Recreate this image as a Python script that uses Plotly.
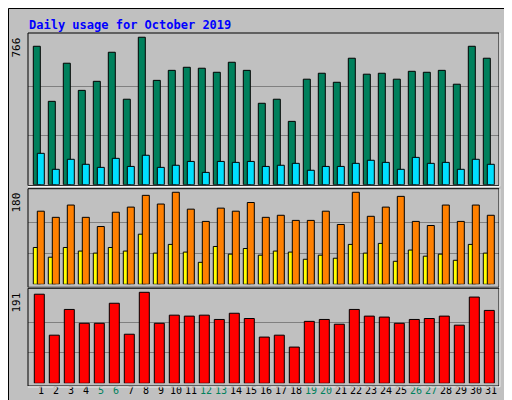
import plotly.graph_objects as go

days = list(range(1, 32))
hits = [719,433,631,490,537,688,444,766,542,594,610,605,584,636,594,423,444,329,548,579,532,657,574,579,548,589,584,594,522,719,657]
files = [163,80,132,106,90,137,95,153,90,101,121,64,121,116,121,95,101,111,75,95,95,111,127,116,80,142,111,116,80,132,106]
visits = [143,131,155,131,113,141,151,174,157,180,147,123,149,143,160,131,135,125,125,143,117,180,133,151,172,123,115,155,123,155,135]
sites = [72,53,72,65,61,72,65,98,61,78,63,43,74,59,70,57,65,63,49,57,51,78,61,80,45,67,55,59,47,78,61]
kbytes = [187,101,155,126,126,168,103,191,126,143,141,143,134,147,136,97,101,76,130,134,124,155,141,139,126,134,136,141,122,181,153]
weekend = {5,6,12,13,19,20,26,27}
title = "Daily usage for October 2019"

W, H = 512, 400
def py(p): return 1 - p / H
def px(p): return p / W

BG = "#C0C0C0"
fig = go.Figure()
line = dict(color="black", width=1)
fig.add_bar(x=days, y=hits, marker=dict(color="#00805C", line=line), width=0.467, offset=0, xaxis="x", yaxis="y")
fig.add_bar(x=days, y=files, marker=dict(color="#00E0FF", line=line), width=0.467, offset=0.267, xaxis="x", yaxis="y")
fig.add_bar(x=days, y=sites, marker=dict(color="#FFFF00", line=line), width=0.467, offset=0, xaxis="x2", yaxis="y2")
fig.add_bar(x=days, y=visits, marker=dict(color="#FF8000", line=line), width=0.467, offset=0.267, xaxis="x2", yaxis="y2")
fig.add_bar(x=days, y=kbytes, marker=dict(color="#FF0000", line=line), width=0.667, offset=0.067, xaxis="x3", yaxis="y3")

x0 = 0.647
xr = [x0, x0 + 471 / 15]
xdom = [px(20), px(491)]
ticktext = [f"<span style='color:{'#00805C' if d in weekend else 'black'}'>{d}</span>" for d in days]
common_x = dict(range=xr, domain=xdom, showgrid=False, zeroline=False, fixedrange=True)
grid = dict(showgrid=True, gridcolor="#808080", gridwidth=1, zeroline=False, showticklabels=False, ticks="")

fig.update_layout(
    width=W, height=H, margin=dict(l=0, r=0, t=0, b=0),
    paper_bgcolor=BG, plot_bgcolor=BG, showlegend=False, barmode="overlay",
    font=dict(family="DejaVu Sans Mono", size=10, color="black"),
    xaxis=dict(**common_x, anchor="y", showticklabels=False),
    xaxis2=dict(**common_x, anchor="y2", showticklabels=False),
    xaxis3=dict(**common_x, anchor="y3", tickmode="array", tickvals=[d + 0.51 for d in days],
                ticktext=ticktext, ticks="", tickfont=dict(size=10)),
    yaxis=dict(domain=[py(176.7), py(25)], range=[0, 788], tickvals=[766/3, 2*766/3], **grid),
    yaxis2=dict(domain=[py(276.3), py(180.7)], range=[0, 187], tickvals=[60, 120], **grid),
    yaxis3=dict(domain=[py(375.3), py(280.3)], range=[0, 199.4], tickvals=[191/3, 2*191/3], **grid),
)

shapes = [
    dict(type="rect", xref="paper", yref="paper", x0=px(505), x1=1, y0=0, y1=1, fillcolor="#808080", line=dict(width=0), layer="below"),
    dict(type="rect", xref="paper", yref="paper", x0=0, x1=1, y0=0, y1=py(394), fillcolor="#808080", line=dict(width=0), layer="below"),
    dict(type="rect", xref="paper", yref="paper", x0=px(0.5), x1=px(511.5), y0=py(399.5), y1=py(0.5), line=dict(color="black", width=1)),
]
for top, bot in [(25, 177.5), (180.7, 279.3), (280.3, 378)]:
    shapes.append(dict(type="rect", xref="paper", yref="paper", x0=px(20), x1=px(491), y0=py(bot), y1=py(top),
                       line=dict(color="black", width=1)))
    shapes.append(dict(type="line", xref="paper", yref="paper", x0=px(20), x1=px(491.5), y0=py(bot+0.8), y1=py(bot+0.8),
                       line=dict(color="white", width=1)))
    shapes.append(dict(type="line", xref="paper", yref="paper", x0=px(491.8), x1=px(491.8), y0=py(bot+0.8), y1=py(top),
                       line=dict(color="white", width=1)))
fig.update_layout(shapes=shapes)

ann = [dict(text="<b>" + title + "</b>", x=px(19), y=py(8), xanchor="left", yanchor="top",
            font=dict(size=12, color="#0000FF", family="DejaVu Sans Mono"))]
for val, top in [("766", 28), ("180", 183), ("191", 283)]:
    ann.append(dict(text=val, x=px(16), y=py(top), xanchor="right", yanchor="top", textangle=-90,
                    font=dict(size=11)))
ann.append(dict(text="<span style='color:#00C0D0'>Pages</span> / <span style='color:#00C0FF'>Files</span> / <span style='color:#00805C'>Hits</span>",
                x=px(493), y=py(28), xanchor="left", yanchor="top", textangle=-90, font=dict(size=11, color="#00805C")))
ann.append(dict(text="<span style='color:#FF8000'>Sites</span> / <span style='color:#FFFF00'>Visits</span>",
                x=px(493), y=py(199), xanchor="left", yanchor="top", textangle=-90, font=dict(size=11, color="#FF8000")))
ann.append(dict(text="KBytes", x=px(493), y=py(376), xanchor="left", yanchor="bottom", textangle=-90,
                font=dict(size=11, color="#FF0000")))
for a in ann:
    a.update(xref="paper", yref="paper", showarrow=False)
fig.update_layout(annotations=ann)

fig.write_html("out.html", config={"displayModeBar": False})
